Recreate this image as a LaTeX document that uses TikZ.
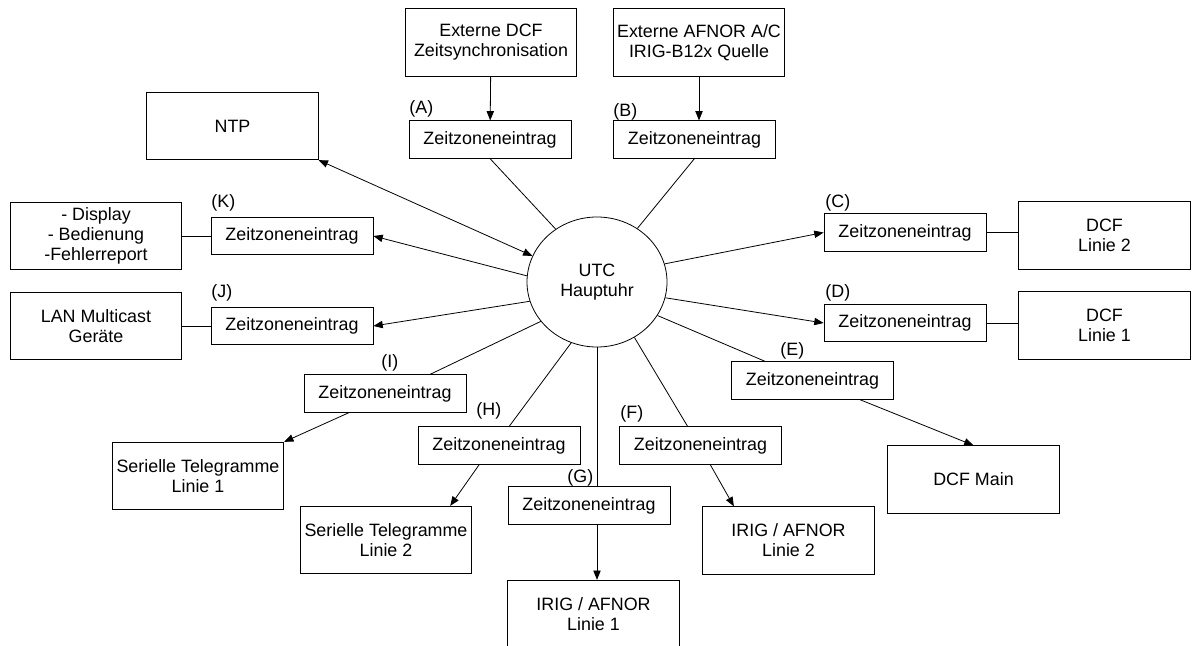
\documentclass[tikz,border=0pt]{standalone}
\usepackage{fontspec}
\setmainfont{Liberation Sans}
\usetikzlibrary{arrows.meta, shapes.geometric}

\begin{document}
\begin{tikzpicture}[
  x=0.75pt, y=-0.75pt,
  >={Triangle[length=7pt, width=5.5pt]}, line width=0.6pt,
  every node/.style={font=\fontsize{13.4pt}{15pt}\selectfont},
  box/.style={draw, minimum width=128.6pt, minimum height=50.6pt, inner sep=0pt, align=center},
  zone/.style={draw, minimum width=121.5pt, minimum height=28pt, inner sep=0pt},
  uhr/.style={draw, ellipse, minimum width=105pt, minimum height=97.5pt, inner sep=0pt, align=center},
  lbl/.style={anchor=south west, inner sep=0pt}]

  \useasboundingbox (0,0) rectangle (1193,646);

  % Zentrale Uhr
  \node[uhr] (utc) at (597,282) {UTC\\Hauptuhr};

  % Quellen oben
  \node[box] (extdcf) at (491,42.5)  {Externe DCF\\Zeitsynchronisation};
  \node[box] (extafn) at (699,42.5)  {Externe AFNOR A/C\\IRIG-B12x Quelle};
  \node[zone] (zA) at (490,139.5)    {Zeitzoneneintrag};
  \node[zone] (zB) at (694.5,139.5)  {Zeitzoneneintrag};
  \node[lbl] (lA) at (409,118) {(A)};
  \node[lbl] (lB) at (613,121) {(B)};

  \draw[->] (extdcf) -- (zA);
  \draw[->] (extafn.south) -- (extafn.south |- zB.north);
  \draw (zA.south) -- (utc.128);
  \draw (zB.south) -- (utc.53);

  % linke Seite
  \node[box] (ntp)  at (232.5,126) {NTP};
  \node[box] (disp) at (96,236)    {- Display\\- Bedienung\\-Fehlerreport};
  \node[zone] (zK)  at (292,236)   {Zeitzoneneintrag};
  \node[box] (lan)  at (96,326)    {LAN Multicast\\Geräte};
  \node[zone] (zJ)  at (292,326)   {Zeitzoneneintrag};
  \node[lbl] (lK) at (211,212) {(K)};
  \node[lbl] (lJ) at (211,302) {(J)};

  \draw[<->] (ntp.south east) -- (utc.158);
  \draw[->] (utc.175) -- (zK.east);
  \draw[->] (utc.196) -- (zJ.east);
  \draw (zK.west) -- (disp.east);
  \draw (zJ.west) -- (lan.east);

  % rechte Seite
  \node[zone] (zC)  at (905,232.5)    {Zeitzoneneintrag};
  \node[box] (dcfz) at (1104.5,235.5) {DCF\\Linie 2};
  \node[zone] (zD)  at (905,323)      {Zeitzoneneintrag};
  \node[box] (dcfe) at (1104.5,325.5) {DCF\\Linie 1};
  \node[zone] (zE)  at (812.5,380.5)  {Zeitzoneneintrag};
  \node[box] (dcfm) at (973.5,479.5)  {DCF Main};
  \node[lbl] (lC) at (825,212) {(C)};
  \node[lbl] (lD) at (825,302) {(D)};
  \node[lbl] (lE) at (780,360) {(E)};

  \draw[->] (utc.15) -- (zC.west);
  \draw[->] (utc.347) -- (zD.west);
  \draw (zC.east) -- (zC.east -| dcfz.west);
  \draw (zD.east) -- (zD.east -| dcfe.west);
  \draw (utc.331) -- (zE.158);
  \draw[->] (zE.338) -- (dcfm.north);

  % untere Ausgaenge
  \node[zone] (zF)  at (700.5,445.5) {Zeitzoneneintrag};
  \node[box] (irz)  at (788.5,540.5) {IRIG / AFNOR\\Linie 2};
  \node[zone] (zG)  at (589,505.5)   {Zeitzoneneintrag};
  \node[box] (ire)  at (593.5,614)   {IRIG / AFNOR\\Linie 1};
  \node[zone] (zH)  at (499,445.5)   {Zeitzoneneintrag};
  \node[box] (serz) at (386,540)     {Serielle Telegramme\\Linie 2};
  \node[zone] (zI)  at (385,393.5)   {Zeitzoneneintrag};
  \node[box] (sere) at (198,476)     {Serielle Telegramme\\Linie 1};
  \node[lbl] (lF) at (620,423) {(F)};
  \node[lbl] (lG) at (567,487) {(G)};
  \node[lbl] (lH) at (476,420) {(H)};
  \node[lbl] (lI) at (381,372) {(I)};

  \draw (utc.304) -- (zF.124);
  \draw[->] (zF.297) -- (irz.148);
  \draw (utc.south) -- (utc.south |- zG.north);
  \draw[->] (utc.south |- zG.south) -- (utc.south |- ire.north);
  \draw (utc.247) -- (zH.62);
  \draw[->] (zH.224) -- (serz.28);
  \draw (utc.215) -- (zI.23);
  \draw[->] (zI.208) -- (sere.north east);
\end{tikzpicture}
\end{document}
